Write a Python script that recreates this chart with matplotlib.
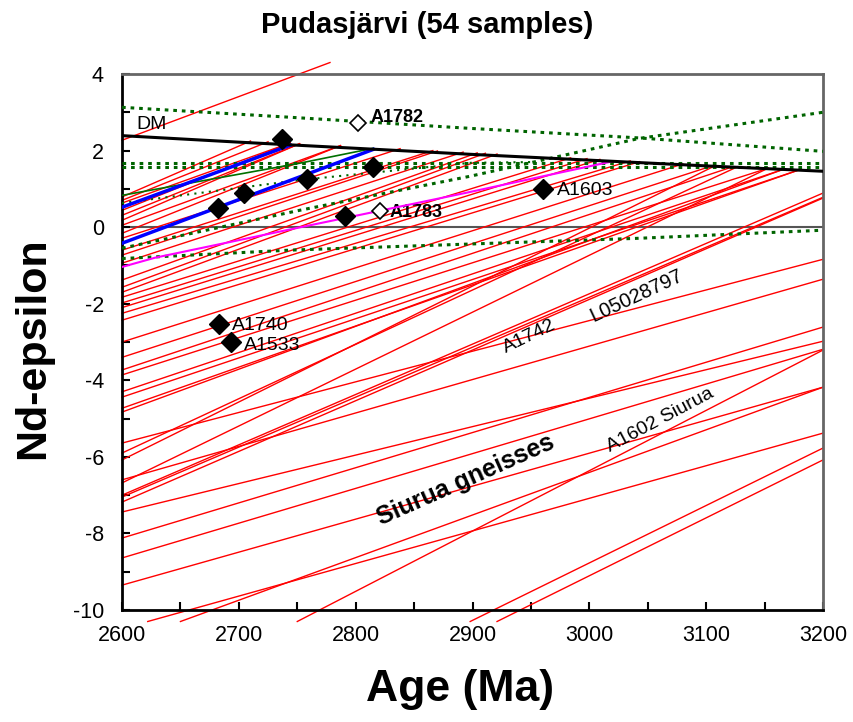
import matplotlib.pyplot as plt
from matplotlib.ticker import MultipleLocator

plt.rcParams['font.family'] = ['Liberation Sans', 'DejaVu Sans']
plt.rcParams['axes.unicode_minus'] = False

# depleted mantle curve (DePaolo)
dm_age = [2600, 2700, 2800, 2900, 3000, 3100, 3200]
dm_eps = [2.39, 2.22, 2.06, 1.90, 1.75, 1.60, 1.46]

# red Nd evolution lines: start (age, eps) -> end (age, eps)
red_x0 = [2600] * 41 + [2750, 2898, 2921, 2622, 2650]
red_y0 = [2.27, 0.79, 0.70, 0.63, 0.44, 0.31, 0.18, 0.05, -0.16, -0.29,
          -0.60, -0.73, -0.94, -1.38, -1.57, -1.70, -1.83, -1.98, -2.10, -2.25,
          -2.43, -3.00, -3.40, -3.73, -3.86, -4.30, -4.44, -4.73, -4.83,
          -5.64, -5.90, -6.08, -6.60, -6.68, -7.00, -7.05, -7.18, -7.44, -8.12,
          -8.64, -9.35,
          -10.3, -10.3, -10.3, -10.3, -10.3]
red_x1 = [2778, 2710, 2725, 2744, 2744, 2752, 2752, 2787, 2787, 2838,
          2866, 2870, 2892, 2904, 2911, 2921, 2984, 2998, 3009, 3035,
          3043, 3080, 3106, 3123, 3153, 3166, 3179, 3179, 3166,
          3200, 3127, 3108, 3200, 3153, 3200, 3200, 3200, 3200, 3200,
          3200, 3200,
          3200, 3200, 3200, 3200, 3200]
red_y1 = [4.30, 2.25, 2.23, 2.20, 2.20, 2.18, 2.18, 2.13, 2.13, 2.05,
          2.00, 1.99, 1.96, 1.94, 1.93, 1.91, 1.81, 1.79, 1.77, 1.73,
          1.71, 1.65, 1.61, 1.58, 1.54, 1.51, 1.49, 1.49, 1.51,
          -0.84, 1.58, 1.61, -1.36, 1.54, 0.89, 0.78, 0.76, -2.98, -2.61,
          -3.19, -4.18,
          -3.21, -5.77, -6.08, -5.38, -4.18]

blue1_x = [2600, 2744]
blue1_y = [0.52, 2.14]
blue2_x = [2600, 2815]
blue2_y = [-0.42, 2.03]
green_x = [2600, 2647, 2752, 2815]
green_y = [0.83, 1.09, 1.67, 2.06]
mag_x = [2600, 2628, 2750, 2895, 3020]
mag_y = [-1.04, -0.80, -0.02, 0.90, 1.72]

# dotted green envelopes
dotA_x = [2600, 2744, 2898, 3043, 3200]
dotA_y = [3.13, 2.87, 2.58, 2.33, 1.98]
dotB_x = [2600, 2752, 2898, 3043, 3200]
dotB_y = [-0.55, 0.44, 1.33, 2.32, 3.00]
dotD_x = [2600, 2752, 2898, 2950]
dotD_y = [0.63, 1.23, 1.68, 1.70]
dotH1_x = [2600, 3200]
dotH1_y = [1.68, 1.68]
dotH2_x = [2600, 3200]
dotH2_y = [1.57, 1.57]
dotE_x = [2600, 2744, 3043, 3200]
dotE_y = [-0.82, -0.60, -0.29, -0.08]

# samples
filled_age = [2737, 2815, 2758, 2704, 2682, 2791, 2960, 2683, 2693]
filled_eps = [2.30, 1.57, 1.25, 0.89, 0.50, 0.29, 0.99, -2.53, -3.00]
open_age = [2802, 2821]
open_eps = [2.72, 0.42]

fig = plt.figure(figsize=(8.54, 7.22), dpi=100)
ax = fig.add_axes([0.1429, 0.1551, 0.8208, 0.7424])

ax.axhline(0, color='#555555', lw=1.5, zorder=1)

for i in range(len(red_x0)):
    ax.plot([red_x0[i], red_x1[i]], [red_y0[i], red_y1[i]], color='#ff0000',
            lw=1.0, clip_on=False, zorder=2)

dot = dict(color='#006400', lw=2.2, linestyle=(0, (1.2, 1.6)), zorder=3)
ax.plot(dotA_x, dotA_y, **dot)
ax.plot(dotB_x, dotB_y, **dot)
ax.plot(dotD_x, dotD_y, color='#006400', lw=1.5, linestyle=(0, (1, 2.5)), zorder=3)
ax.plot(dotH1_x, dotH1_y, **dot)
ax.plot(dotH2_x, dotH2_y, **dot)
ax.plot(dotE_x, dotE_y, **dot)

ax.plot(green_x, green_y, color='#007000', lw=1.2, zorder=4)
ax.plot(mag_x, mag_y, color='#ff00ff', lw=1.5, zorder=4)
ax.plot(blue1_x, blue1_y, color='#0000ff', lw=2.5, zorder=4)
ax.plot(blue2_x, blue2_y, color='#0000ff', lw=2.5, zorder=4)

ax.plot(dm_age, dm_eps, color='black', lw=2.2, zorder=5)

ax.plot(filled_age, filled_eps, 'D', color='black', ms=10, zorder=6, clip_on=False)
ax.plot(open_age, open_eps, 'D', mfc='white', mec='black', mew=1.2, ms=8, zorder=6)

ax.set_xlim(2600, 3200)
ax.set_ylim(-10, 4)
ax.xaxis.set_major_locator(MultipleLocator(100))
ax.xaxis.set_minor_locator(MultipleLocator(50))
ax.yaxis.set_major_locator(MultipleLocator(2))
ax.yaxis.set_minor_locator(MultipleLocator(1))
ax.tick_params(which='both', direction='in', length=6, width=1.5, labelsize=15.5, pad=13)
ax.tick_params(axis='x', pad=11)

for side in ['left', 'bottom']:
    ax.spines[side].set_linewidth(2)
    ax.spines[side].set_color('black')
for side in ['top', 'right']:
    ax.spines[side].set_linewidth(2)
    ax.spines[side].set_color('#666666')

fig.text(0.5, 1 - 25 / 722, 'Pudasjärvi (54 samples)', ha='center', va='center',
         fontsize=21, fontweight='bold')
fig.text(460 / 854, 1 - 690 / 722, 'Age (Ma)', ha='center', va='center',
         fontsize=32, fontweight='bold')
fig.text(33 / 854, 1 - 348 / 722, 'Nd-epsilon', ha='center', va='center',
         fontsize=31, fontweight='bold', rotation=90)

ax.text(2612, 2.69, 'DM', fontsize=14, va='center')
ax.text(2813, 2.87, 'A1782', fontsize=13, fontweight='bold', va='center')
ax.text(2829, 0.37, 'A1783', fontsize=13, fontweight='bold', va='center')
ax.text(2972, 0.97, 'A1603', fontsize=14, va='center')
ax.text(2694, -2.58, 'A1740', fontsize=14, va='center')
ax.text(2704, -3.08, 'A1533', fontsize=14, va='center')
ax.text(2949, -2.85, 'A1742', fontsize=14, ha='center', va='center',
        rotation=26, rotation_mode='anchor')
ax.text(3040, -1.80, 'L05028797', fontsize=14.5, ha='center', va='center',
        rotation=25, rotation_mode='anchor')
ax.text(3061, -5.04, 'A1602 Siurua', fontsize=14, ha='center', va='center',
        rotation=28, rotation_mode='anchor')
ax.text(2894, -6.6, 'Siurua gneisses', fontsize=18, fontweight='bold', ha='center',
        va='center', rotation=24, rotation_mode='anchor')

fig.savefig('out.png', dpi=100)
